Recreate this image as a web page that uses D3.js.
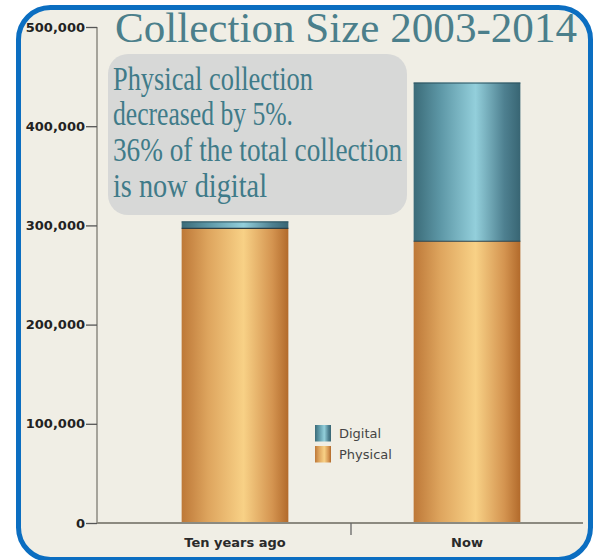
<!DOCTYPE html>
<html>
<head>
<meta charset="utf-8">
<script src="https://cdn.jsdelivr.net/npm/d3@7/dist/d3.min.js"></script>
<style>
  html, body { margin: 0; padding: 0; background: #ffffff; }
  svg { display: block; }
</style>
</head>
<body>
<script>
// ---- Data ----
const categories = ["Ten years ago", "Now"];
const physical = [297000, 284000];
const digital = [7000, 160000];
const seriesNames = ["Digital", "Physical"];
const yTicks = [0, 100000, 200000, 300000, 400000, 500000];
const titleText = "Collection Size 2003-2014";
const noteLines = ["Physical collection", "decreased by 5%.", "36% of the total collection", "is now digital"];

const W = 597, H = 560;
const svg = d3.select("body").append("svg").attr("width", W).attr("height", H);

const defs = svg.append("defs");
function grad(id, stops) {
  const g = defs.append("linearGradient").attr("id", id)
    .attr("x1", "0%").attr("x2", "100%").attr("y1", "0%").attr("y2", "0%");
  stops.forEach(s => g.append("stop").attr("offset", s[0]).attr("stop-color", s[1]));
}
grad("gPhys", [[0, "#bd7838"], [0.25, "#dea55e"], [0.58, "#f8d186"], [0.85, "#d49450"], [1, "#b26a2b"]]);
grad("gDig", [[0, "#3b6b78"], [0.25, "#5d97a6"], [0.58, "#93cfdb"], [0.85, "#4e8090"], [1, "#386573"]]);

// frame
svg.append("rect").attr("x", 18.5).attr("y", 7.5).attr("width", 572).attr("height", 552)
  .attr("rx", 32).attr("ry", 32)
  .attr("fill", "#f0eee5").attr("stroke", "#0b6ec1").attr("stroke-width", 5);

// scales
const y = d3.scaleLinear().domain([0, 500000]).range([523, 27]);
const x = d3.scaleBand().domain(categories).range([119, 583]).paddingInner(0.54).paddingOuter(0.27);

const axisColor = "#8c8a80";

// annotation box
svg.append("rect").attr("x", 108).attr("y", 54).attr("width", 299).attr("height", 161)
  .attr("rx", 20).attr("ry", 20).attr("fill", "#d7d8d7");
const noteLens = [200, 180, 289, 154];
const noteBase = [90, 125, 161, 197];
noteLines.forEach((t, i) => {
  svg.append("text").attr("x", 113).attr("y", noteBase[i])
    .attr("font-family", "'Liberation Serif', 'DejaVu Serif', serif")
    .attr("font-size", 33).attr("fill", "#3f7b89")
    .attr("textLength", noteLens[i]).attr("lengthAdjust", "spacingAndGlyphs")
    .text(t);
});

// title
svg.append("text").attr("x", 115).attr("y", 42)
  .attr("font-family", "'Liberation Serif', 'DejaVu Serif', serif")
  .attr("font-size", 43).attr("fill", "#4b7f8b")
  .attr("textLength", 462).attr("lengthAdjust", "spacingAndGlyphs")
  .text(titleText);

// bars
const bw = x.bandwidth();
const g = svg.append("g");
categories.forEach((c, i) => {
  const x0 = x(c);
  const yp = y(physical[i]);
  const yt = y(physical[i] + digital[i]);
  g.append("rect").attr("x", x0).attr("y", yp).attr("width", bw).attr("height", y(0) - yp)
    .attr("fill", "url(#gPhys)");
  g.append("rect").attr("x", x0).attr("y", yt).attr("width", bw).attr("height", yp - yt)
    .attr("fill", "url(#gDig)");
  g.append("line").attr("x1", x0).attr("x2", x0 + bw).attr("y1", yp).attr("y2", yp)
    .attr("stroke", "#2e3f44").attr("stroke-width", 1.2);
  g.append("line").attr("x1", x0).attr("x2", x0 + bw).attr("y1", yt + 0.5).attr("y2", yt + 0.5)
    .attr("stroke", "#2f5561").attr("stroke-width", 1);
});

// y axis
const yAxis = d3.axisLeft(y).tickValues(yTicks).tickSize(11).tickPadding(1)
  .tickFormat(d => d3.format(",")(d));
const ya = svg.append("g").attr("transform", "translate(97,0)").call(yAxis);
ya.select(".domain").attr("stroke", axisColor).attr("stroke-width", 1.5).attr("d", "M0,27V523");
ya.selectAll(".tick line").attr("stroke", "#555").attr("stroke-width", 1.3);
ya.selectAll(".tick text").attr("font-family", "'DejaVu Sans', Verdana, sans-serif")
  .attr("font-weight", "bold").attr("font-size", 13).attr("fill", "#222");

// x axis
const xa = svg.append("g").attr("transform", "translate(0,523)");
xa.append("line").attr("x1", 97).attr("x2", 583).attr("y1", 0).attr("y2", 0)
  .attr("stroke", axisColor).attr("stroke-width", 1.8);
const mid = (x(categories[0]) + bw + x(categories[1])) / 2;
xa.append("line").attr("x1", mid).attr("x2", mid).attr("y1", 0).attr("y2", 12)
  .attr("stroke", "#666").attr("stroke-width", 1.3);
categories.forEach(c => {
  xa.append("text").attr("x", x(c) + bw / 2).attr("y", 24).attr("text-anchor", "middle")
    .attr("font-family", "'DejaVu Sans', Verdana, sans-serif").attr("font-weight", "bold")
    .attr("font-size", 13).attr("fill", "#2a2a2a").text(c);
});

// legend
const legend = svg.append("g").attr("transform", "translate(315,425)");
seriesNames.forEach((n, i) => {
  legend.append("rect").attr("x", 0).attr("y", i * 21).attr("width", 16).attr("height", 16.5)
    .attr("fill", n === "Digital" ? "url(#gDig)" : "url(#gPhys)");
  legend.append("text").attr("x", 24).attr("y", i * 21 + 13)
    .attr("font-family", "'DejaVu Sans', Verdana, sans-serif")
    .attr("font-size", 13).attr("fill", "#444").text(n);
});
</script>
</body>
</html>
